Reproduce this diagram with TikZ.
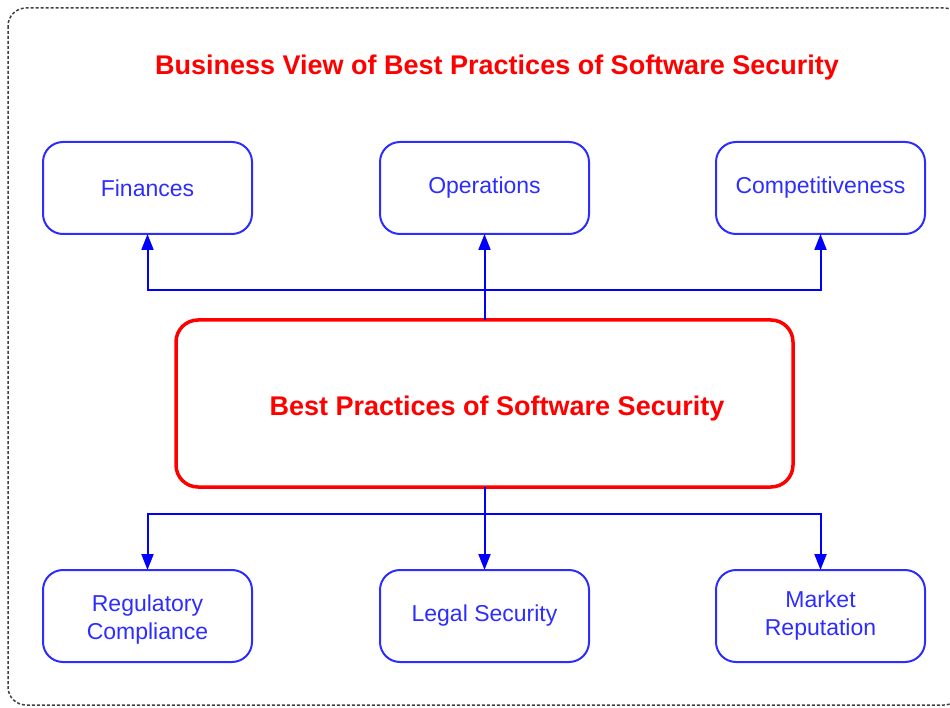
\documentclass[tikz,border=0pt]{standalone}
\usepackage{fontspec}
\setmainfont{Liberation Sans}
\usetikzlibrary{arrows.meta}
\definecolor{boxblue}{RGB}{45,45,255}
\definecolor{linkblue}{RGB}{0,0,255}
\definecolor{hotred}{RGB}{255,0,0}
\begin{document}
\begin{tikzpicture}[x=1pt,y=-1pt,
  smallbox/.style={draw=boxblue, line width=2pt, rounded corners=20pt,
    minimum width=209pt, minimum height=92pt, text=boxblue,
    font=\fontsize{23}{28}\selectfont, align=center, inner sep=0pt, outer sep=0pt},
  boxtext/.style={text=boxblue, font=\fontsize{23}{28}\selectfont, align=center, inner sep=0pt},
  mainbox/.style={draw=hotred, line width=3.5pt, rounded corners=22pt,
    minimum width=617pt, minimum height=167pt, inner sep=0pt, outer sep=0pt},
  maintext/.style={text=hotred, font=\fontsize{27}{32}\selectfont\bfseries, inner sep=0pt},
  titletext/.style={text=hotred, font=\fontsize{27}{32}\selectfont\bfseries, inner sep=0pt},
  link/.style={draw=linkblue, line width=2pt},
  arrowlink/.style={link, -{Triangle[length=16pt,width=12pt]}},
  frame/.style={draw=black!75, line width=1.5pt, dash pattern=on 3pt off 2pt, rounded corners=18pt}
]
\useasboundingbox (0,0) rectangle (950,708);
\draw[frame] (8,8) rectangle (962,705);

\node[titletext] (title) at (497,68) {Business View of Best Practices of Software Security};

\node[smallbox] (fin) at (147.5,188) {Finances};
\node[smallbox] (ops) at (484.5,188) {Operations};
\node[smallbox] (comp) at (820.5,188) {Competitiveness};

\node[mainbox, label={[name=maintitle, maintext, xshift=12.5pt, yshift=-5pt]center:Best Practices of Software Security}] (main) at (484.5,403.5) {};

\node[smallbox, label={[name=regtext, boxtext, yshift=-4pt]center:Regulatory\\Compliance}] (reg) at (147.5,616) {};
\node[smallbox] (legal) at (484.5,616) {Legal Security};
\node[smallbox] (market) at (820.5,616) {Market\\Reputation};

\coordinate (topbus) at (484.5,290);
\coordinate (botbus) at (484.5,514);

\draw[arrowlink] (main.north) -- (ops.south);
\draw[arrowlink] (topbus) -| (fin.south);
\draw[arrowlink] (topbus) -| (comp.south);

\draw[arrowlink] (main.south) -- (legal.north);
\draw[arrowlink] (botbus) -| (reg.north);
\draw[arrowlink] (botbus) -| (market.north);
\end{tikzpicture}
\end{document}
